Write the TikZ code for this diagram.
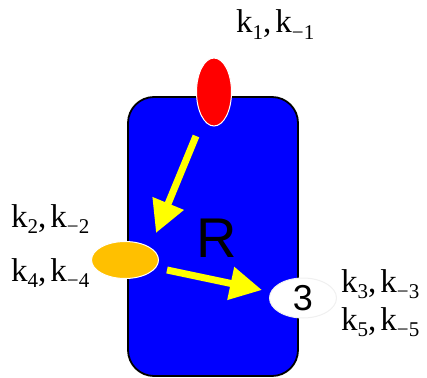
\documentclass[tikz,border=0pt]{standalone}
\usepackage{fontspec}
\setmainfont{Liberation Serif}
\newfontfamily\sansR{Liberation Sans}
\usetikzlibrary{arrows.meta,shapes.geometric}
\newcommand\kk[2]{k\raisebox{-0.2em}{\fontsize{21}{21}\selectfont #1},\hspace{0.12em}k\raisebox{-0.2em}{\fontsize{21}{21}\selectfont #2}}
\definecolor{cellblue}{RGB}{0,0,255}
\definecolor{ligred}{RGB}{255,0,0}
\definecolor{ligorange}{RGB}{255,192,0}
\definecolor{arryellow}{RGB}{255,255,0}
\tikzset{
  site/.style={ellipse, draw=white, line width=1pt, inner sep=0pt},
  rate/.style={font=\fontsize{33}{33}\selectfont, inner sep=0pt, anchor=base west},
  bigarrow/.style={draw=arryellow, line width=7pt, -{Triangle[length=32pt,width=32pt]}, arryellow},
}
\begin{document}
\begin{tikzpicture}[x=1pt,y=-1pt]
\useasboundingbox (0,0) rectangle (427,377);
\node[draw=black, line width=1.8pt, fill=cellblue, rounded corners=26pt, minimum width=170pt, minimum height=279pt, inner sep=0pt] (cell) at (213,236.5) {};
\node[site, fill=ligred, minimum width=35pt, minimum height=68pt] (red) at (214,92) {};
\node[site, fill=ligorange, minimum width=67pt, minimum height=37pt] (orange) at (125,260) {};
\node[site, draw=black!6, fill=white, minimum width=67pt, minimum height=40pt, font=\sansR\fontsize{36}{36}\selectfont] (three) at (303,298) {3};
\node[font=\sansR\fontsize{56}{56}\selectfont, inner sep=0pt] (R) at (217,238) {R};
\node[rate] (k1) at (236,33) {\kk{1}{\char"2212 1}};
\node[rate] (k2) at (11,227) {\kk{2}{\char"2212 2}};
\node[rate] (k4) at (11,281) {\kk{4}{\char"2212 4}};
\node[rate] (k3) at (341,292) {\kk{3}{\char"2212 3}};
\node[rate] (k5) at (341,330) {\kk{5}{\char"2212 5}};
\coordinate (a1s) at (196,136);
\coordinate (a1e) at (156,233);
\coordinate (a2s) at (167,270);
\coordinate (a2e) at (262,290);
\draw[bigarrow] (a1s) -- (a1e);
\draw[bigarrow] (a2s) -- (a2e);
\end{tikzpicture}
\end{document}
